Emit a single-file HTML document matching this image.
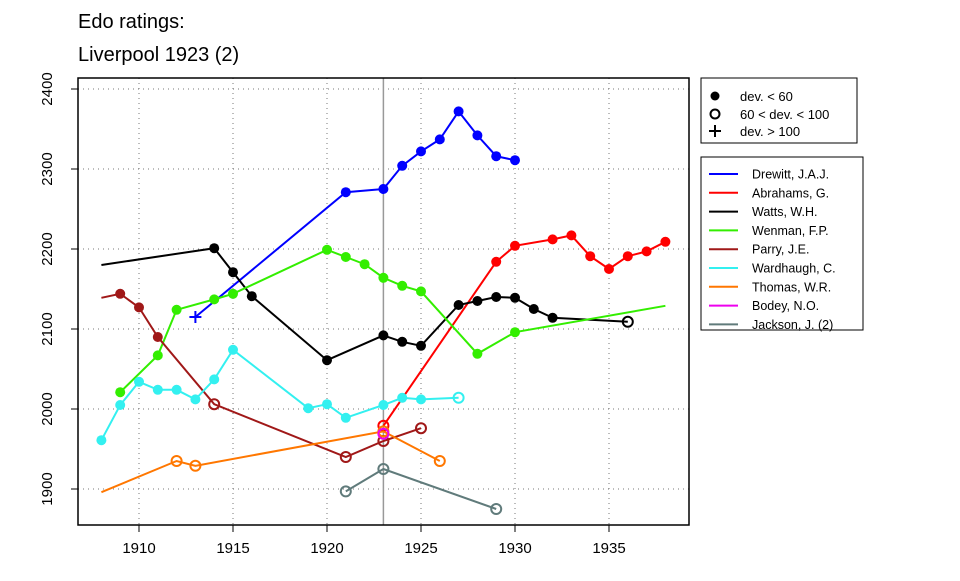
<!DOCTYPE html>
<html><head><meta charset="utf-8"><style>
body{margin:0;background:#fff;font-family:"Liberation Sans",Arial,sans-serif}
svg text{font-family:"Liberation Sans",Arial,sans-serif}
</style></head><body>
<svg width="960" height="576" xmlns="http://www.w3.org/2000/svg" id="chart">
<text x="78" y="28" font-size="20">Edo ratings:</text>
<text x="78" y="61" font-size="20">Liverpool 1923 (2)</text>
<g id="grid"></g>
<g id="axes"></g>
<g id="series"></g>
<rect x="78" y="78" width="611" height="447" fill="none" stroke="#000" stroke-width="1.5"/>
<g>
<rect x="701" y="78" width="156" height="65" fill="#fff" stroke="#000"/>
<circle cx="715" cy="96" r="4.5" fill="#000"/><text x="740" y="101" font-size="13">dev. &lt; 60</text>
<circle cx="715" cy="114" r="4.5" fill="none" stroke="#000" stroke-width="2"/><text x="740" y="119" font-size="13">60 &lt; dev. &lt; 100</text>
<path d="M709 131h12M715 125v12" stroke="#000" stroke-width="2"/><text x="740" y="136" font-size="13">dev. &gt; 100</text>
</g>
<g id="legend"><rect x="701" y="157" width="162" height="173" fill="#fff" stroke="#000"/></g>
</svg>
<script>
const years=[1910,1915,1920,1925,1930,1935];
const yTicks=[1900,2000,2100,2200,2300,2400];
const names=["Drewitt, J.A.J.","Abrahams, G.","Watts, W.H.","Wenman, F.P.","Parry, J.E.","Wardhaugh, C.","Thomas, W.R.","Bodey, N.O.","Jackson, J. (2)"];
const colors=["#0000ff","#ff0000","#000000","#33ee00","#a01818","#33f0f0","#ff7700","#ee00ee","#607b7b"];
// [year, rating, marker] marker: f=filled, o=open, p=plus, n=none
const drewitt=[[1913,2115,"p"],[1921,2271,"f"],[1923,2275,"f"],[1924,2304,"f"],[1925,2322,"f"],[1926,2337,"f"],[1927,2372,"f"],[1928,2342,"f"],[1929,2316,"f"],[1930,2311,"f"]];
const abrahams=[[1923,1979,"o"],[1929,2184,"f"],[1930,2204,"f"],[1932,2212,"f"],[1933,2217,"f"],[1934,2191,"f"],[1935,2175,"f"],[1936,2191,"f"],[1937,2197,"f"],[1938,2209,"f"]];
const watts=[[1908,2180,"n"],[1914,2201,"f"],[1915,2171,"f"],[1916,2141,"f"],[1920,2061,"f"],[1923,2092,"f"],[1924,2084,"f"],[1925,2079,"f"],[1927,2130,"f"],[1928,2135,"f"],[1929,2140,"f"],[1930,2139,"f"],[1931,2125,"f"],[1932,2114,"f"],[1936,2109,"o"]];
const wenman=[[1909,2021,"f"],[1911,2067,"f"],[1912,2124,"f"],[1914,2137,"f"],[1915,2144,"f"],[1920,2199,"f"],[1921,2190,"f"],[1922,2181,"f"],[1923,2164,"f"],[1924,2154,"f"],[1925,2147,"f"],[1928,2069,"f"],[1930,2096,"f"],[1938,2129,"n"]];
const parry=[[1908,2139,"n"],[1909,2144,"f"],[1910,2127,"f"],[1911,2090,"f"],[1914,2006,"o"],[1921,1940,"o"],[1923,1960,"o"],[1925,1976,"o"]];
const wardhaugh=[[1908,1961,"f"],[1909,2005,"f"],[1910,2034,"f"],[1911,2024,"f"],[1912,2024,"f"],[1913,2012,"f"],[1914,2037,"f"],[1915,2074,"f"],[1919,2001,"f"],[1920,2006,"f"],[1921,1989,"f"],[1923,2005,"f"],[1924,2014,"f"],[1925,2012,"f"],[1927,2014,"o"]];
const thomas=[[1908,1896,"n"],[1912,1935,"o"],[1913,1929,"o"],[1923,1972,"o"],[1926,1935,"o"]];
const bodey=[[1923,1969,"o"]];
const jackson=[[1921,1897,"o"],[1923,1925,"o"],[1929,1875,"o"]];
const allSeries=[drewitt,abrahams,watts,wenman,parry,wardhaugh,thomas,bodey,jackson];
const eventYear=1923;
const NS="http://www.w3.org/2000/svg";
const X=y=>139+(y-1910)*18.8;
const Y=r=>409-(r-2000)*0.8;
function mk(tag,attrs,parent){const e=document.createElementNS(NS,tag);for(const k in attrs)e.setAttribute(k,attrs[k]);parent.appendChild(e);return e;}
const grid=document.getElementById('grid'),axes=document.getElementById('axes'),ser=document.getElementById('series'),leg=document.getElementById('legend');
years.forEach(yr=>{
 const l=mk('line',{x1:X(yr),x2:X(yr),y1:78,y2:525,stroke:'#777','stroke-dasharray':'1 4'},grid);
 
 
 const t=mk('line',{x1:X(yr),x2:X(yr),y1:525,y2:532,stroke:'#000'},axes);
 
 
 const tx=mk('text',{x:X(yr),y:553,'font-size':15,'text-anchor':'middle'},axes);tx.textContent=yr;
 
 
});
yTicks.forEach(r=>{
 const l=mk('line',{x1:78,x2:689,y1:Y(r),y2:Y(r),stroke:'#777','stroke-dasharray':'1 4'},grid);
 
 
 const t=mk('line',{x1:71,x2:78,y1:Y(r),y2:Y(r),stroke:'#000'},axes);
 
 
 const tx=mk('text',{x:0,y:0,'font-size':15,'text-anchor':'middle',transform:`translate(52,${Y(r)}) rotate(-90)`},axes);tx.textContent=r;
 
 
});
const vl=mk('line',{x1:X(eventYear),x2:X(eventYear),y1:78,y2:525,stroke:'#999','stroke-width':1.5},grid);


allSeries.forEach((s,i)=>{
 const c=colors[i];
 const g=mk('g',{},ser);
 
 
 if(s.length>1){const p=mk('polyline',{points:s.map(d=>X(d[0])+','+Y(d[1])).join(' '),fill:'none',stroke:c,'stroke-width':2},g);
  
  }
 s.forEach(d=>{
  const x=X(d[0]),y=Y(d[1]);let m=null;
  if(d[2]==='f')m=mk('circle',{cx:x,cy:y,r:5,fill:c},g);
  else if(d[2]==='o')m=mk('circle',{cx:x,cy:y,r:5,fill:'none',stroke:c,'stroke-width':2},g);
  else if(d[2]==='p')m=mk('path',{d:`M${x-6} ${y}h12M${x} ${y-6}v12`,stroke:c,'stroke-width':2},g);
  if(m){
  }
 });
 const ly=174+i*18.8;
 const ll=mk('line',{x1:709,x2:738,y1:ly,y2:ly,stroke:c,'stroke-width':2},leg);
 
 
 const lt=mk('text',{x:752,y:ly+4.5,'font-size':12.5},leg);lt.textContent=names[i];
 
 
});
</script>
</body></html>
